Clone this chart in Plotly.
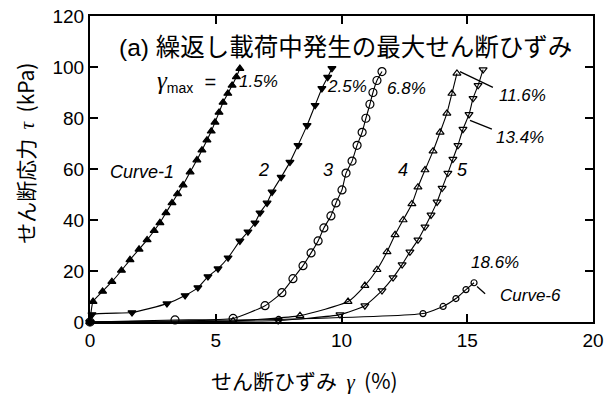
import plotly.graph_objects as go

# ---- data ----
c1_x = [0.0, 0.12, 0.5, 0.87, 1.25, 1.59, 1.95, 2.27, 2.55, 2.78, 3.02, 3.26, 3.48, 3.70, 3.98, 4.25, 4.45, 4.65, 4.82, 4.97, 5.13, 5.29, 5.48, 5.65, 5.82, 5.96]
c1_y = [0.0, 8.0, 12.0, 15.8, 20.2, 24.4, 28.5, 32.2, 35.8, 38.9, 42.8, 46.7, 50.2, 53.7, 58.8, 63.5, 67.4, 71.3, 74.8, 78.3, 82.2, 86.1, 89.6, 92.8, 96.1, 99.4]

c2_x = [0.0, 0.08, 1.67, 3.06, 3.78, 4.29, 4.69, 5.09, 5.49, 5.96, 6.28, 6.56, 6.76, 7.04, 7.24, 7.60, 7.95, 8.27, 8.63, 8.95, 9.22, 9.45, 9.62]
c2_y = [0.0, 2.9, 3.7, 7.2, 10.4, 13.5, 17.8, 20.9, 25.2, 31.8, 35.4, 38.9, 42.8, 46.7, 51.0, 56.8, 62.7, 69.3, 77.1, 85.0, 91.6, 96.0, 99.5]

c3_x = [0.0, 3.38, 5.69, 6.96, 7.63, 8.07, 8.47, 8.79, 9.07, 9.30, 9.58, 9.78, 10.02, 10.18, 10.42, 10.62, 10.82, 10.97, 11.13, 11.25, 11.41, 11.61]
c3_y = [0.0, 0.8, 1.4, 6.4, 11.5, 17.0, 22.1, 27.1, 31.8, 36.9, 41.6, 46.7, 51.8, 58.4, 63.1, 69.3, 74.4, 79.9, 85.4, 90.0, 94.7, 98.2]

c4_x = [0.0, 5.69, 8.35, 10.26, 10.93, 11.41, 11.81, 12.13, 12.45, 12.80, 13.04, 13.32, 13.64, 13.92, 14.19, 14.39, 14.59]
c4_y = [0.0, 0.4, 2.5, 8.0, 14.3, 20.5, 27.5, 34.2, 40.0, 46.3, 52.9, 59.6, 67.0, 74.4, 81.8, 89.6, 97.5]

c5_x = [0.0, 7.48, 9.94, 10.93, 11.61, 12.05, 12.41, 12.72, 13.04, 13.32, 13.56, 13.80, 14.00, 14.23, 14.43, 14.63, 14.83, 15.07, 15.23, 15.43, 15.63]
c5_y = [0.0, 0.6, 2.9, 6.4, 12.3, 17.4, 22.5, 27.5, 32.2, 37.3, 42.0, 47.1, 52.5, 58.4, 63.9, 69.3, 75.6, 81.4, 87.7, 92.8, 99.0]

c6_x = [0.0, 7.5, 13.24, 14.04, 14.55, 14.95, 15.27]
c6_y = [0.0, 1.0, 3.3, 6.1, 9.2, 12.7, 15.4]

x_ticks = [0, 5, 10, 15, 20]
y_ticks = [0, 20, 40, 60, 80, 100, 120]

curve_labels = ["Curve-1", "2", "3", "4", "5"]
curve_label_x = [2.07, 6.88, 9.46, 12.45, 14.8]
curve_label_y = [58.8, 59.6, 59.6, 59.6, 59.6]

pct_labels = ["1.5%", "2.5%", "6.8%", "11.6%", "13.4%", "18.6%", "Curve-6"]
pct_x = [6.68, 10.2, 12.6, 17.2, 17.1, 16.1, 17.5]
pct_y = [94.3, 92.5, 91.5, 88.9, 72.4, 23.2, 10.4]

# leader lines (from curve end to label)
lead_x0 = [14.71, 15.11, 15.39]
lead_y0 = [98.2, 79.1, 13.9]
lead_x1 = [16.02, 15.98, 15.71]
lead_y1 = [92.0, 75.6, 11.1]

FONT = "Liberation Sans, Arial, Noto Sans CJK JP"
CJK = "Noto Sans CJK JP, Liberation Sans"

fig = go.Figure()

series = [
    (c1_x, c1_y, "triangle-up", 7),
    (c2_x, c2_y, "triangle-down", 7),
    (c3_x, c3_y, "circle-open", 8),
    (c4_x, c4_y, "triangle-up-open", 7),
    (c5_x, c5_y, "triangle-down-open", 7),
    (c6_x, c6_y, "circle-open", 6),
]
for xs, ys, sym, sz in series:
    fig.add_trace(go.Scatter(
        x=xs, y=ys, mode="lines+markers",
        line=dict(color="black", width=1.1, shape="spline", smoothing=0.5),
        marker=dict(symbol=sym, size=sz, color="black", line=dict(color="black", width=1.2)),
        cliponaxis=False, showlegend=False, hoverinfo="skip"))

for t, x, y in zip(curve_labels, curve_label_x, curve_label_y):
    fig.add_annotation(x=x, y=y, text=f"<i>{t}</i>", showarrow=False,
                       font=dict(family=FONT, size=18, color="black"))

for t, x, y in zip(pct_labels, pct_x, pct_y):
    fig.add_annotation(x=x, y=y, text=f"<i>{t}</i>", showarrow=False,
                       font=dict(family=FONT, size=17, color="black"))

for x0, y0, x1, y1 in zip(lead_x0, lead_y0, lead_x1, lead_y1):
    fig.add_shape(type="line", x0=x0, y0=y0, x1=x1, y1=y1,
                  line=dict(color="black", width=1.3))

# gamma max label
fig.add_annotation(x=5.08, y=94.3, xanchor="right",
                   text='<span style="font-family:Liberation Serif;font-size:25px"><i>γ</i></span><sub>max</sub>  =',
                   showarrow=False, font=dict(family=FONT, size=20, color="black"))

# title inside plot
fig.add_annotation(x=1.07, y=107.6, xref="x", yref="y", xanchor="left",
                   text="(a) 繰返し載荷中発生の最大せん断ひずみ", showarrow=False,
                   font=dict(family=FONT, size=24.5, color="black"))

# axis titles
fig.add_annotation(xref="paper", yref="paper", x=-0.129, y=0.55, textangle=-90,
                   xanchor="center", yanchor="middle",
                   text='せん断応力  <span style="font-family:Liberation Serif"><i>τ</i></span>  (kPa)',
                   showarrow=False, font=dict(family=CJK, size=21, color="black"))
fig.add_annotation(xref="paper", yref="paper", x=0.427, y=-0.19, yanchor="middle",
                   text='せん断ひずみ  <span style="font-family:Liberation Serif"><i>γ</i></span>  (%)',
                   showarrow=False, font=dict(family=CJK, size=21, color="black"))

axis_common = dict(showline=True, linecolor="black", linewidth=2, mirror="ticks",
                   ticks="inside", ticklen=8, tickwidth=1.5, tickcolor="black",
                   showgrid=False, zeroline=False, automargin=False,
                   tickfont=dict(family=FONT, size=19, color="black"))

fig.update_xaxes(range=[0, 20], tickvals=x_ticks, ticktext=[str(v) for v in x_ticks], **axis_common)
fig.update_yaxes(range=[0, 120], tickvals=y_ticks, ticktext=[str(v) for v in y_ticks], **axis_common)

fig.update_layout(width=610, height=397, margin=dict(l=90, r=17, t=16, b=75, autoexpand=False),
                  plot_bgcolor="white", paper_bgcolor="white")

fig.write_html("out.html", config={"displayModeBar": False},
               post_script="document.body.style.margin='0';document.body.style.overflow='hidden';")
